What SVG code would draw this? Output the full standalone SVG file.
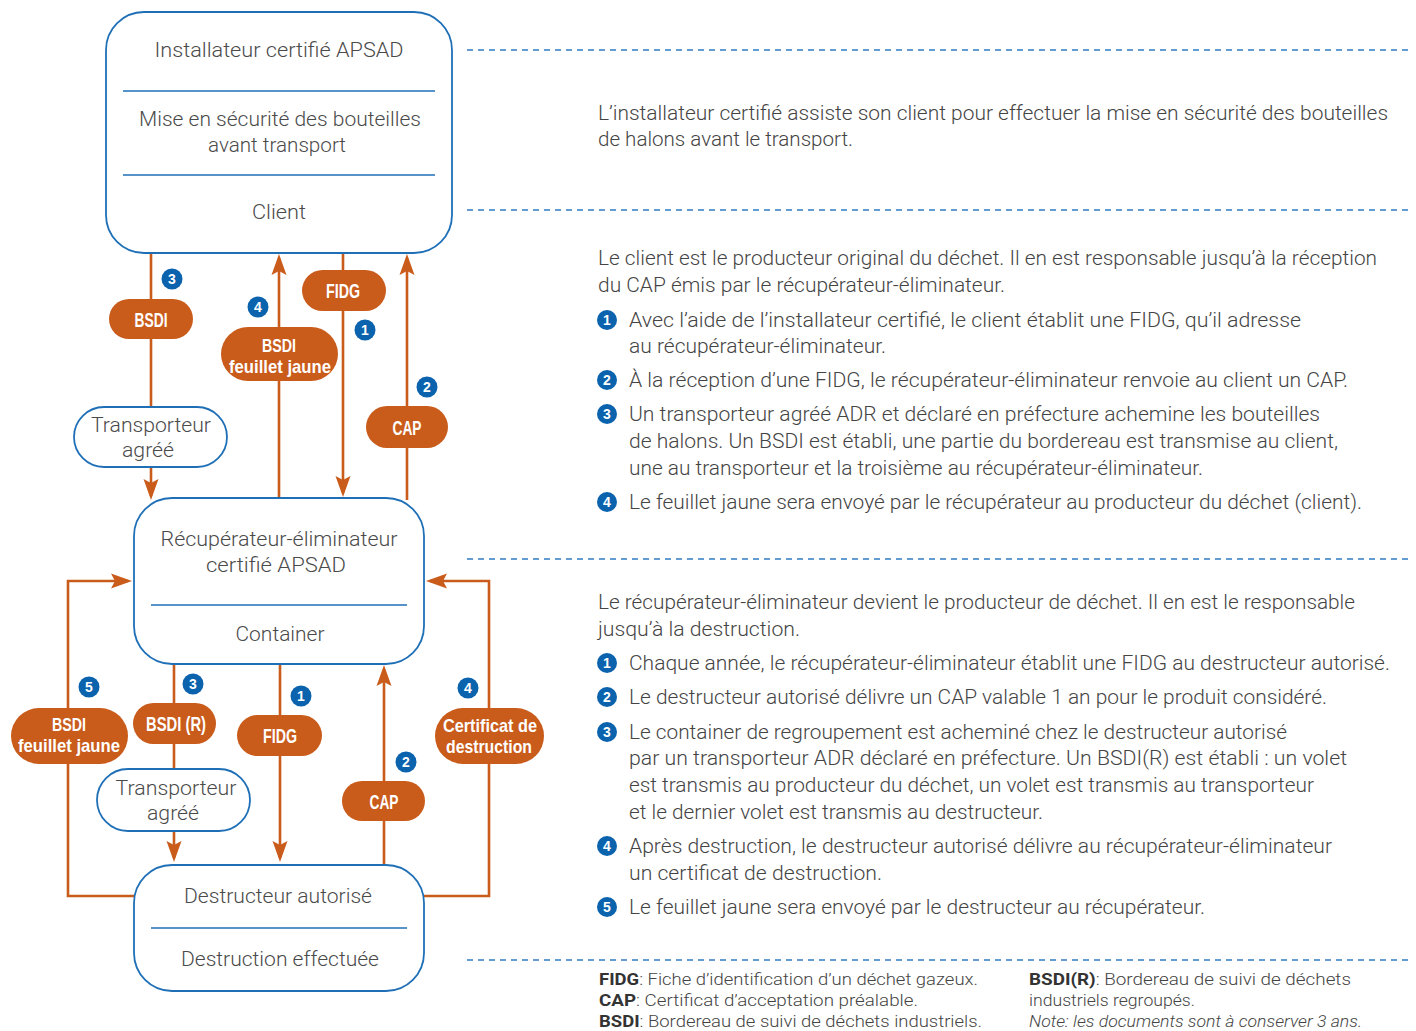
<svg xmlns="http://www.w3.org/2000/svg" width="1416" height="1031" viewBox="0 0 1416 1031">
<style>
.box{fill:#fff;stroke:#1f6fb7;stroke-width:1.8}
.sep{stroke:#1f6fb7;stroke-width:1.6}
.dash{stroke:#2f7cc1;stroke-width:1.5;stroke-dasharray:6 5;fill:none}
.con{stroke:#c95b1b;stroke-width:2.6;fill:none}
.pill{fill:#c95b1b}
.pt{font-family:"Liberation Sans",Arial,sans-serif;font-weight:bold;font-size:21px;fill:#fff;text-anchor:middle}
.pt2{font-family:"Liberation Sans",Arial,sans-serif;font-weight:bold;font-size:19px;fill:#fff;text-anchor:middle}
.bt{font-family:Roboto,"Liberation Sans",sans-serif;font-weight:300;font-size:20px;fill:#4a4a4a;text-anchor:middle}
.rt{font-family:Roboto,"Liberation Sans",sans-serif;font-weight:300;font-size:20.5px;fill:#444}
.ft{font-family:Roboto,"Liberation Sans",sans-serif;font-weight:300;font-size:16.5px;fill:#444}
.fb{font-weight:bold;fill:#333}
.bd{fill:#0b63ae}
.bn{font-family:"Liberation Sans",Arial,sans-serif;font-weight:bold;font-size:14px;fill:#fff;text-anchor:middle}
</style>
<defs>
<marker id="ah" markerUnits="userSpaceOnUse" markerWidth="30" markerHeight="20" viewBox="-22 -10 30 20" refX="0" refY="0" orient="auto" overflow="visible">
<path d="M4,0 L-17,-7.5 L-13,0 L-17,7.5 Z" fill="#c95b1b"/>
</marker>
</defs>

<g id="dashes">
<line class="dash" x1="467" y1="50" x2="1412" y2="50"/>
<line class="dash" x1="467" y1="210" x2="1412" y2="210"/>
<line class="dash" x1="467" y1="559" x2="1412" y2="559"/>
<line class="dash" x1="467" y1="960" x2="1412" y2="960"/>
</g>

<g id="connectors">
<path class="con" d="M151,253 V407"/>
<path class="con" d="M151,467 V496" marker-end="url(#ah)"/>
<path class="con" d="M279,498 V258" marker-end="url(#ah)"/>
<path class="con" d="M343,253 V493" marker-end="url(#ah)"/>
<path class="con" d="M407,500 V258" marker-end="url(#ah)"/>
<path class="con" d="M134,896 H68 V581 H128" marker-end="url(#ah)"/>
<path class="con" d="M424,896 H489 V581 H430" marker-end="url(#ah)"/>
<path class="con" d="M174,664 V769"/>
<path class="con" d="M174,831 V858" marker-end="url(#ah)"/>
<path class="con" d="M280,664 V858" marker-end="url(#ah)"/>
<path class="con" d="M384,865 V669" marker-end="url(#ah)"/>
</g>

<g id="node-installateur">
<rect class="box" x="106" y="12" width="346" height="241" rx="38"/>
<line class="sep" x1="123" y1="91" x2="435" y2="91"/>
<line class="sep" x1="123" y1="175" x2="435" y2="175"/>
<text class="bt" x="279" y="57" textLength="249" lengthAdjust="spacingAndGlyphs">Installateur certifié APSAD</text>
<text class="bt" x="280" y="126" textLength="282" lengthAdjust="spacingAndGlyphs">Mise en sécurité des bouteilles</text>
<text class="bt" x="277" y="152" textLength="138" lengthAdjust="spacingAndGlyphs">avant transport</text>
<text class="bt" x="279" y="219" textLength="54" lengthAdjust="spacingAndGlyphs">Client</text>
</g>

<g id="node-transporteur1">
<rect class="box" x="74" y="407" width="153" height="60" rx="30"/>
<text class="bt" x="151" y="432" textLength="120" lengthAdjust="spacingAndGlyphs">Transporteur</text>
<text class="bt" x="148" y="457" textLength="52" lengthAdjust="spacingAndGlyphs">agréé</text>
</g>

<g id="node-recuperateur">
<rect class="box" x="134" y="498" width="290" height="166" rx="38"/>
<line class="sep" x1="151" y1="605" x2="407" y2="605"/>
<text class="bt" x="279" y="546" textLength="237" lengthAdjust="spacingAndGlyphs">Récupérateur-éliminateur</text>
<text class="bt" x="276" y="572" textLength="140" lengthAdjust="spacingAndGlyphs">certifié APSAD</text>
<text class="bt" x="280" y="641" textLength="89" lengthAdjust="spacingAndGlyphs">Container</text>
</g>

<g id="node-transporteur2">
<rect class="box" x="97" y="769" width="153" height="62" rx="31"/>
<text class="bt" x="176" y="795" textLength="121" lengthAdjust="spacingAndGlyphs">Transporteur</text>
<text class="bt" x="173" y="820" textLength="52" lengthAdjust="spacingAndGlyphs">agréé</text>
</g>

<g id="node-destructeur">
<rect class="box" x="134" y="865" width="290" height="126" rx="38"/>
<line class="sep" x1="151" y1="928" x2="407" y2="928"/>
<text class="bt" x="278" y="903" textLength="188" lengthAdjust="spacingAndGlyphs">Destructeur autorisé</text>
<text class="bt" x="280" y="966" textLength="198" lengthAdjust="spacingAndGlyphs">Destruction effectuée</text>
</g>

<g id="labels">
<rect class="pill" x="109" y="299" width="84" height="40" rx="20"/>
<text class="pt" x="151" y="327" textLength="33" lengthAdjust="spacingAndGlyphs">BSDI</text>
<rect class="pill" x="221" y="327" width="117" height="54" rx="27"/>
<text class="pt2" x="279" y="352" textLength="34" lengthAdjust="spacingAndGlyphs">BSDI</text>
<text class="pt2" x="280" y="373" textLength="102" lengthAdjust="spacingAndGlyphs">feuillet jaune</text>
<rect class="pill" x="302" y="270" width="84" height="41" rx="20.5"/>
<text class="pt" x="343" y="298" textLength="34" lengthAdjust="spacingAndGlyphs">FIDG</text>
<rect class="pill" x="366" y="406" width="82" height="42" rx="21"/>
<text class="pt" x="407" y="435" textLength="29" lengthAdjust="spacingAndGlyphs">CAP</text>

<rect class="pill" x="11" y="708" width="117" height="56" rx="28"/>
<text class="pt2" x="69" y="731" textLength="34" lengthAdjust="spacingAndGlyphs">BSDI</text>
<text class="pt2" x="69" y="752" textLength="102" lengthAdjust="spacingAndGlyphs">feuillet jaune</text>
<rect class="pill" x="133" y="703" width="83" height="41" rx="20.5"/>
<text class="pt" x="176" y="731" textLength="60" lengthAdjust="spacingAndGlyphs">BSDI (R)</text>
<rect class="pill" x="237" y="715" width="85" height="41" rx="20.5"/>
<text class="pt" x="280" y="743" textLength="34" lengthAdjust="spacingAndGlyphs">FIDG</text>
<rect class="pill" x="342" y="781" width="83" height="40" rx="20"/>
<text class="pt" x="384" y="809" textLength="29" lengthAdjust="spacingAndGlyphs">CAP</text>
<rect class="pill" x="435" y="708" width="109" height="56" rx="28"/>
<text class="pt2" x="490" y="732" textLength="94" lengthAdjust="spacingAndGlyphs">Certificat de</text>
<text class="pt2" x="489" y="753" textLength="86" lengthAdjust="spacingAndGlyphs">destruction</text>
</g>

<g id="badges">
<circle class="bd" cx="172" cy="279" r="10.5"/><text class="bn" x="172" y="284">3</text>
<circle class="bd" cx="258" cy="307" r="10.5"/><text class="bn" x="258" y="312">4</text>
<circle class="bd" cx="365" cy="330" r="10.5"/><text class="bn" x="365" y="335">1</text>
<circle class="bd" cx="427" cy="387" r="10.5"/><text class="bn" x="427" y="392">2</text>
<circle class="bd" cx="89" cy="687" r="10.5"/><text class="bn" x="89" y="692">5</text>
<circle class="bd" cx="193" cy="684" r="10.5"/><text class="bn" x="193" y="689">3</text>
<circle class="bd" cx="301" cy="696" r="10.5"/><text class="bn" x="301" y="701">1</text>
<circle class="bd" cx="406" cy="762" r="10.5"/><text class="bn" x="406" y="767">2</text>
<circle class="bd" cx="468" cy="688" r="10.5"/><text class="bn" x="468" y="693">4</text>
</g>

<g id="text-right">
<text class="rt" x="598" y="120" textLength="790" lengthAdjust="spacingAndGlyphs">L’installateur certifié assiste son client pour effectuer la mise en sécurité des bouteilles</text>
<text class="rt" x="598" y="146" textLength="255" lengthAdjust="spacingAndGlyphs">de halons avant le transport.</text>

<text class="rt" x="598" y="265" textLength="779" lengthAdjust="spacingAndGlyphs">Le client est le producteur original du déchet. Il en est responsable jusqu’à la réception</text>
<text class="rt" x="598" y="292" textLength="407" lengthAdjust="spacingAndGlyphs">du CAP émis par le récupérateur-éliminateur.</text>
<circle class="bd" cx="607" cy="320" r="10"/><text class="bn" x="607" y="325">1</text>
<text class="rt" x="629" y="327" textLength="672" lengthAdjust="spacingAndGlyphs">Avec l’aide de l’installateur certifié, le client établit une FIDG, qu’il adresse</text>
<text class="rt" x="629" y="353" textLength="257" lengthAdjust="spacingAndGlyphs">au récupérateur-éliminateur.</text>
<circle class="bd" cx="607" cy="380" r="10"/><text class="bn" x="607" y="385">2</text>
<text class="rt" x="629" y="387" textLength="719" lengthAdjust="spacingAndGlyphs">À la réception d’une FIDG, le récupérateur-éliminateur renvoie au client un CAP.</text>
<circle class="bd" cx="607" cy="414" r="10"/><text class="bn" x="607" y="419">3</text>
<text class="rt" x="629" y="421" textLength="691" lengthAdjust="spacingAndGlyphs">Un transporteur agréé ADR et déclaré en préfecture achemine les bouteilles</text>
<text class="rt" x="629" y="448" textLength="709" lengthAdjust="spacingAndGlyphs">de halons. Un BSDI est établi, une partie du bordereau est transmise au client,</text>
<text class="rt" x="629" y="475" textLength="574" lengthAdjust="spacingAndGlyphs">une au transporteur et la troisième au récupérateur-éliminateur.</text>
<circle class="bd" cx="607" cy="502" r="10"/><text class="bn" x="607" y="507">4</text>
<text class="rt" x="629" y="509" textLength="733" lengthAdjust="spacingAndGlyphs">Le feuillet jaune sera envoyé par le récupérateur au producteur du déchet (client).</text>

<text class="rt" x="598" y="609" textLength="757" lengthAdjust="spacingAndGlyphs">Le récupérateur-éliminateur devient le producteur de déchet. Il en est le responsable</text>
<text class="rt" x="598" y="636" textLength="202" lengthAdjust="spacingAndGlyphs">jusqu’à la destruction.</text>
<circle class="bd" cx="607" cy="663" r="10"/><text class="bn" x="607" y="668">1</text>
<text class="rt" x="629" y="670" textLength="761" lengthAdjust="spacingAndGlyphs">Chaque année, le récupérateur-éliminateur établit une FIDG au destructeur autorisé.</text>
<circle class="bd" cx="607" cy="697" r="10"/><text class="bn" x="607" y="702">2</text>
<text class="rt" x="629" y="704" textLength="698" lengthAdjust="spacingAndGlyphs">Le destructeur autorisé délivre un CAP valable 1 an pour le produit considéré.</text>
<circle class="bd" cx="607" cy="732" r="10"/><text class="bn" x="607" y="737">3</text>
<text class="rt" x="629" y="739" textLength="658" lengthAdjust="spacingAndGlyphs">Le container de regroupement est acheminé chez le destructeur autorisé</text>
<text class="rt" x="629" y="765" textLength="718" lengthAdjust="spacingAndGlyphs">par un transporteur ADR déclaré en préfecture. Un BSDI(R) est établi : un volet</text>
<text class="rt" x="629" y="792" textLength="685" lengthAdjust="spacingAndGlyphs">est transmis au producteur du déchet, un volet est transmis au transporteur</text>
<text class="rt" x="629" y="819" textLength="414" lengthAdjust="spacingAndGlyphs">et le dernier volet est transmis au destructeur.</text>
<circle class="bd" cx="607" cy="846" r="10"/><text class="bn" x="607" y="851">4</text>
<text class="rt" x="629" y="853" textLength="703" lengthAdjust="spacingAndGlyphs">Après destruction, le destructeur autorisé délivre au récupérateur-éliminateur</text>
<text class="rt" x="629" y="880" textLength="253" lengthAdjust="spacingAndGlyphs">un certificat de destruction.</text>
<circle class="bd" cx="607" cy="907" r="10"/><text class="bn" x="607" y="912">5</text>
<text class="rt" x="629" y="914" textLength="576" lengthAdjust="spacingAndGlyphs">Le feuillet jaune sera envoyé par le destructeur au récupérateur.</text>
</g>

<g id="legend">
<text class="ft" x="599" y="985" textLength="379" lengthAdjust="spacingAndGlyphs"><tspan class="fb">FIDG</tspan>: Fiche d’identification d’un déchet gazeux.</text>
<text class="ft" x="599" y="1006" textLength="319" lengthAdjust="spacingAndGlyphs"><tspan class="fb">CAP</tspan>: Certificat d’acceptation préalable.</text>
<text class="ft" x="599" y="1027" textLength="383" lengthAdjust="spacingAndGlyphs"><tspan class="fb">BSDI</tspan>: Bordereau de suivi de déchets industriels.</text>
<text class="ft" x="1029" y="985" textLength="322" lengthAdjust="spacingAndGlyphs"><tspan class="fb">BSDI(R)</tspan>: Bordereau de suivi de déchets</text>
<text class="ft" x="1029" y="1006" textLength="166" lengthAdjust="spacingAndGlyphs">industriels regroupés.</text>
<text class="ft" x="1029" y="1027" font-style="italic" textLength="333" lengthAdjust="spacingAndGlyphs">Note: les documents sont à conserver 3 ans.</text>
</g>
</svg>
